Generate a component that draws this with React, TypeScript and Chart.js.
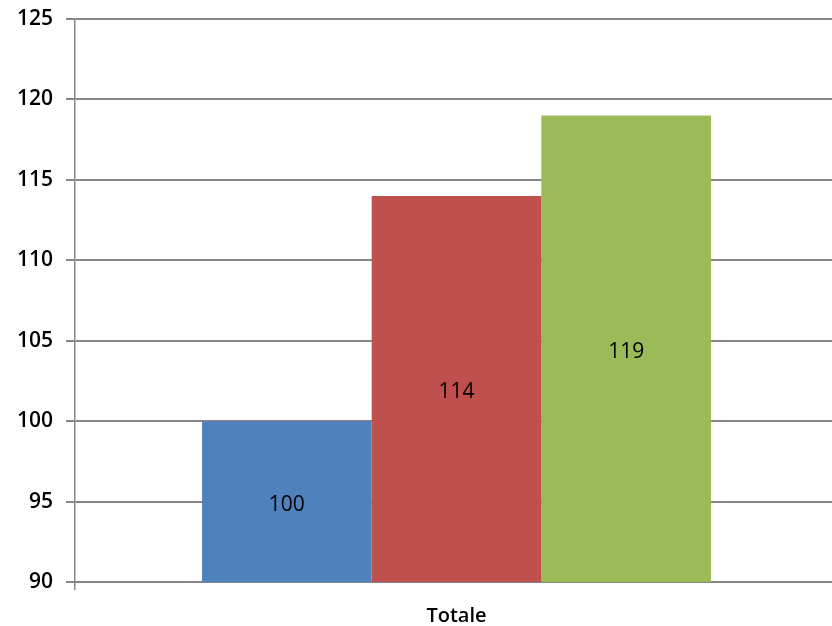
import React, { useEffect, useRef } from "react";
import { Chart, registerables } from "chart.js";

Chart.register(...registerables);

const categories = ["Totale"];
const seriesNames = ["Serie 1", "Serie 2", "Serie 3"];
const seriesValues = [[100], [114], [119]];
const seriesColors = ["#4F81BD", "#C0504D", "#9BBB59"];
const yMin = 90;
const yMax = 125;
const yStep = 5;

const FONT = "'Open Sans', 'Liberation Sans', sans-serif";

const barLabels = {
  id: "barLabels",
  afterDraw(chart: any) {
    const ctx = chart.ctx;
    const yScale = chart.scales.y;
    ctx.save();
    ctx.font = `21px ${FONT}`;
    ctx.fillStyle = "#000000";
    ctx.textAlign = "center";
    ctx.textBaseline = "middle";
    chart.data.datasets.forEach((ds: any, i: number) => {
      const meta = chart.getDatasetMeta(i);
      meta.data.forEach((bar: any, j: number) => {
        const v = Number(ds.data[j]);
        const top = yScale.getPixelForValue(v);
        const base = yScale.getPixelForValue(yMin);
        ctx.fillText(String(v), bar.x, (top + base) / 2 + 3);
      });
    });
    ctx.restore();
  },
};

export default function App() {
  const ref = useRef<HTMLCanvasElement | null>(null);
  useEffect(() => {
    document.body.style.margin = "0";
    const chart = new Chart(ref.current as HTMLCanvasElement, {
      type: "bar",
      data: {
        labels: categories,
        datasets: seriesNames.map((name, i) => ({
          label: name,
          data: seriesValues[i],
          backgroundColor: seriesColors[i],
          borderWidth: 0,
          categoryPercentage: 0.667,
          barPercentage: 1,
        })),
      },
      options: {
        animation: false,
        responsive: false,
        maintainAspectRatio: false,
        devicePixelRatio: 1,
        layout: { padding: { top: 19, right: 0, left: 0, bottom: 0 } },
        plugins: {
          legend: { display: false },
          tooltip: { enabled: false },
          title: { display: false },
        },
        scales: {
          x: {
            offset: true,
            grid: {
              offset: true,
              drawOnChartArea: false,
              drawTicks: true,
              tickLength: 8,
              color: "#868686",
              lineWidth: 1.5,
            },
            border: { display: true, color: "#868686", width: 2 },
            ticks: {
              color: "#000000",
              font: { family: FONT, size: 20, weight: "600" },
              padding: 14,
            },
            afterFit: (scale: any) => {
              scale.height = 44;
              scale.paddingLeft = 0;
              scale.paddingRight = 0;
            },
          },
          y: {
            min: yMin,
            max: yMax,
            ticks: {
              stepSize: yStep,
              color: "#000000",
              font: { family: FONT, size: 21, weight: "600" },
              padding: 13,
            },
            grid: {
              color: "#868686",
              lineWidth: 2,
              tickLength: 9,
              drawTicks: true,
            },
            border: { display: true, color: "#868686", width: 1.5 },
            afterFit: (scale: any) => {
              scale.width = 75;
              scale.paddingTop = 0;
              scale.paddingBottom = 0;
            },
          },
        },
      },
      plugins: [barLabels],
    });
    return () => chart.destroy();
  }, []);
  return (
    <div style={{ width: 832, height: 626, overflow: "hidden", background: "#ffffff" }}>
      <canvas ref={ref} width={838} height={626} style={{ display: "block" }} />
    </div>
  );
}
